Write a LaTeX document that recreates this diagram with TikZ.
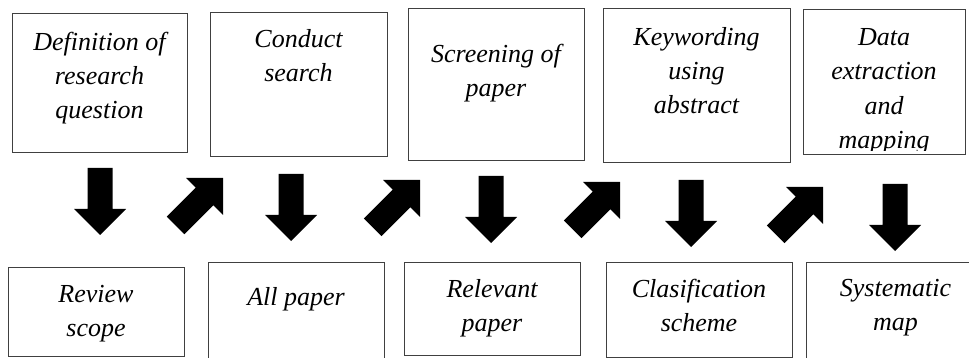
\documentclass[tikz,border=0pt]{standalone}
\usepackage{fontspec}
\setmainfont{Liberation Serif}
\usepackage{tikz}
\usetikzlibrary{positioning, calc}

\tikzset{
  box/.style={draw=black!75, line width=1pt, inner sep=0pt, outer sep=0pt},
  lbl/.style={align=center, inner sep=0pt, outer sep=0pt, anchor=north,
    font=\fontsize{26}{34}\selectfont\itshape},
  fatarrow/.pic={\fill[black] (-12.5,67) -- (12.5,67) -- (12.5,26) -- (26,26)
    -- (0,0) -- (-26,26) -- (-12.5,26) -- cycle;}
}

\begin{document}
\begin{tikzpicture}[x=1pt, y=1pt]
        \useasboundingbox (0,0) rectangle (969,-358);
        \clip (0,0) rectangle (969,-358);

        % Top row
        \node[box, minimum width=175pt, minimum height=139pt] (t1) at (99.5,-83.5) {};
        \node[box, minimum width=177pt, minimum height=144pt] (t2) at (298.5,-85) {};
        \node[box, minimum width=176pt, minimum height=152pt] (t3) at (496,-85) {};
        \node[box, minimum width=187pt, minimum height=154pt] (t4) at (696.5,-86) {};
        \node[box, minimum width=162pt, minimum height=145pt] (t5) at (884,-82.5) {};

        \node[lbl] (t1text) at ([yshift=-18.5pt]t1.north) {Definition of\\research\\question};
        \node[lbl] (t2text) at ([yshift=-16.5pt]t2.north) {Conduct\\search};
        \node[lbl] (t3text) at ([yshift=-35.5pt]t3.north) {Screening of\\paper};
        \node[lbl] (t4text) at ([yshift=-18.5pt]t4.north) {Keywording\\using\\abstract};
        \begin{scope}
            \clip ([yshift=4pt]t5.south west) rectangle (t5.north east);
            \node[lbl, font=\fontsize{26}{34.5}\selectfont\itshape] (t5text)
                at ([yshift=-18pt]t5.north) {Data\\extraction\\and\\mapping};
        \end{scope}

        % Bottom row
        \node[box, minimum width=176pt, minimum height=89pt] (b1) at (96,-311.5) {};
        \node[box, minimum width=176pt, minimum height=100pt] (b2) at (296,-312) {};
        \node[box, minimum width=176pt, minimum height=93pt] (b3) at (492,-308.5) {};
        \node[box, minimum width=186pt, minimum height=95pt] (b4) at (699,-309.5) {};
        \node[box, minimum width=179pt, minimum height=100pt] (b5) at (895.5,-312) {};

        \node[lbl] (b1text) at ([yshift=-18.5pt]b1.north) {Review\\scope};
        \node[lbl] (b2text) at ([yshift=-25.5pt]b2.north) {All paper};
        \node[lbl] (b3text) at ([yshift=-17.5pt]b3.north) {Relevant\\paper};
        \node[lbl] (b4text) at ([yshift=-17.5pt]b4.north) {Clasification\\scheme};
        \node[lbl] (b5text) at ([yshift=-17.5pt]b5.north) {Systematic\\map};

        % Down arrows
        \coordinate (d1) at (100,-235);
        \coordinate (d2) at (291,-241);
        \coordinate (d3) at (491,-243);
        \coordinate (d4) at (691,-247);
        \coordinate (d5) at (895,-251);
        \foreach \tip in {d1,d2,d3,d4,d5}
            \pic at (\tip) {fatarrow};

        % Diagonal arrows
        \coordinate (u1) at (223,-178);
        \coordinate (u2) at (420,-180);
        \coordinate (u3) at (620,-182);
        \coordinate (u4) at (823,-187);
        \foreach \tip in {u1,u2,u3,u4}
            \pic[rotate=135] at (\tip) {fatarrow};
    \end{tikzpicture}
\end{document}
